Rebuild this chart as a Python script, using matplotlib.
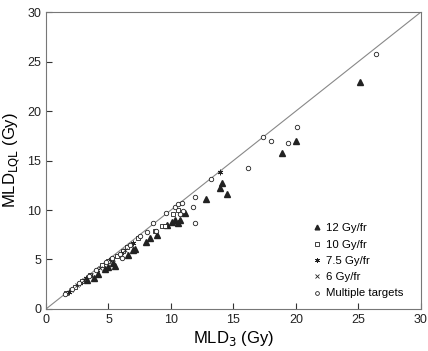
import matplotlib
matplotlib.use("Agg")
import matplotlib.pyplot as plt

plt.rcParams['font.family'] = ['Liberation Sans', 'DejaVu Sans']

# 12 Gy/fr
x12 = [3.3, 3.8, 4.2, 4.7, 5.0, 5.4, 5.5, 6.6, 7.0, 7.1, 8.0, 8.3, 8.9, 9.7, 10.1, 10.3, 10.6, 10.7, 11.1, 12.8, 13.9, 14.1, 14.5, 18.9, 20.0, 25.1]
y12 = [2.9, 3.1, 3.5, 4.0, 4.2, 4.6, 4.3, 5.5, 6.0, 6.1, 6.8, 7.2, 7.5, 8.5, 8.8, 9.0, 8.7, 9.0, 9.7, 11.1, 12.2, 12.7, 11.6, 15.8, 17.0, 22.9]
# 10 Gy/fr
x10 = [1.6, 2.3, 2.9, 3.5, 4.5, 5.0, 5.7, 6.2, 6.5, 7.4, 8.7, 9.3, 9.5, 10.2, 10.6]
y10 = [1.6, 2.2, 2.8, 3.4, 4.4, 4.8, 5.4, 5.9, 6.3, 7.2, 7.9, 8.4, 8.4, 9.6, 10.0]
# 7.5 Gy/fr
x75 = [1.8, 2.7, 3.2, 4.1, 5.2, 6.0, 7.0, 13.9]
y75 = [1.7, 2.6, 3.1, 3.9, 5.0, 5.7, 6.7, 13.8]
# 6 Gy/fr
x6 = [2.0, 2.5, 3.0, 3.6, 4.3, 5.4, 6.3, 6.8]
y6 = [1.9, 2.4, 2.9, 3.4, 4.1, 5.1, 6.0, 6.5]
# Multiple targets
xm = [1.5, 2.1, 2.6, 3.4, 4.0, 4.8, 5.3, 5.9, 6.1, 6.7, 7.5, 8.1, 8.6, 8.8, 9.6, 10.3, 10.6, 10.9, 11.0, 10.7, 11.8, 11.9, 11.9, 13.2, 16.2, 17.4, 18.0, 19.4, 20.1, 26.4]
ym = [1.5, 2.0, 2.6, 3.3, 3.9, 4.7, 5.2, 5.6, 5.2, 6.5, 7.4, 7.8, 8.7, 7.9, 9.7, 10.3, 10.6, 10.7, 9.9, 9.6, 10.3, 8.7, 11.3, 13.1, 14.2, 17.4, 17.0, 16.8, 18.4, 25.8]

ticks = [0, 5, 10, 15, 20, 25, 30]

fig = plt.figure(figsize=(4.28, 3.51), dpi=100)
ax = fig.add_axes([0.1075, 0.1197, 0.876, 0.846])

ax.plot([0, 30], [0, 30], color='#888888', lw=0.8, zorder=1)

c = '#222222'
ax.plot(x12, y12, linestyle='none', marker='^', ms=4, color=c, mec=c, label='12 Gy/fr', zorder=3)
ax.plot(x10, y10, linestyle='none', marker='s', ms=3.5, mfc='white', mec=c, mew=0.6, label='10 Gy/fr', zorder=3)
ax.plot(x75, y75, linestyle='none', marker=(6, 2, 0), ms=4, color=c, mew=0.6, label='7.5 Gy/fr', zorder=3)
ax.plot(x6, y6, linestyle='none', marker='x', ms=3, color=c, mew=0.6, label='6 Gy/fr', zorder=3)
ax.plot(xm, ym, linestyle='none', marker='o', ms=3.2, mfc='white', mec=c, mew=0.6, label='Multiple targets', zorder=3)

ax.set_xlim(0, 30)
ax.set_ylim(0, 30)
ax.set_xticks(ticks)
ax.set_yticks(ticks)
ax.tick_params(direction='in', length=4, width=0.8, labelsize=9, colors='#333333', labelcolor='#222222')
for s in ax.spines.values():
    s.set_color('#777777')
    s.set_linewidth(0.8)

ax.set_xlabel('MLD$_3$ (Gy)', fontsize=12, labelpad=2)
ax.set_ylabel('MLD$_{\\mathrm{LQL}}$ (Gy)', fontsize=12, labelpad=4)

leg = ax.legend(loc='lower right', bbox_to_anchor=(0.965, 0.02), borderaxespad=0, frameon=False,
                fontsize=8.2, handlelength=0.8, handletextpad=0.4, labelspacing=0.55, markerscale=0.85)

fig.savefig('out.png', dpi=100)
